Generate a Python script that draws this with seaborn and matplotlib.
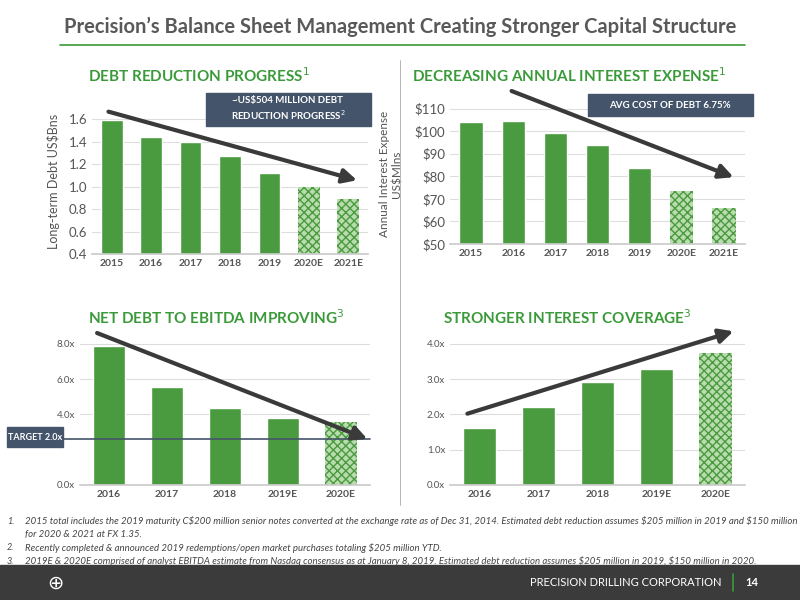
import matplotlib
matplotlib.use("Agg")
import matplotlib.pyplot as plt
import seaborn as sns
import pandas as pd
from matplotlib.patches import Rectangle

sns.set_theme(style="white")
plt.rcParams['font.family'] = ['Lato', 'DejaVu Sans']

years1 = ["2015", "2016", "2017", "2018", "2019", "2020E", "2021E"]
debt = [1.59, 1.44, 1.40, 1.27, 1.12, 1.00, 0.89]
interest = [104, 104.5, 99, 94, 83.5, 73.5, 66]
years2 = ["2016", "2017", "2018", "2019E", "2020E"]
net_debt_ebitda = [7.9, 5.55, 4.35, 3.8, 3.55]
coverage = [1.62, 2.22, 2.92, 3.3, 3.75]
n_est1 = 2
n_est2 = 1

GREEN = "#4a9a3f"
LIGHT = "#b9dcae"
TGREEN = "#3a9a3a"
NAVY = "#44546a"

fig = plt.figure(figsize=(8, 6), dpi=100)
W, H = 800, 600
def ax_at(x0, y0, x1, y1):
    return fig.add_axes([x0 / W, 1 - y1 / H, (x1 - x0) / W, (y1 - y0) / H])

def bars(ax, cats, vals, n_est, ylim, ticks, fmt):
    df = pd.DataFrame({"c": cats, "v": vals})
    sns.barplot(data=df, x="c", y="v", ax=ax, color=GREEN, width=0.55, saturation=1)
    for i, p in enumerate(ax.patches):
        if i >= len(cats) - n_est:
            p.set_facecolor(LIGHT)
            p.set_edgecolor(GREEN)
            p.set_hatch("xxxx")
            p.set_linewidth(0)
    ax.set_ylim(*ylim)
    ax.set_yticks(ticks)
    ax.set_yticklabels([fmt(t) for t in ticks])
    ax.yaxis.grid(True, color="#dddddd", lw=0.8)
    ax.set_axisbelow(True)
    ax.set_xlabel(""); ax.set_ylabel("")
    for s in ax.spines.values():
        s.set_visible(False)
    ax.spines["bottom"].set_visible(True)
    ax.spines["bottom"].set_color("#cccccc")
    ax.tick_params(axis="x", labelsize=7.5, colors="#555555", length=0)
    ax.tick_params(axis="y", labelsize=8, colors="#555555", length=0)
    for t in ax.get_xticklabels():
        t.set_fontweight("bold")

def arrow(ax, p0, p1):
    ax.annotate("", xy=p1, xytext=p0, xycoords="axes fraction",
                arrowprops=dict(arrowstyle="-|>,head_width=0.35,head_length=0.7",
                                color="#3a3a3a", lw=3), annotation_clip=False)

fig.text(0.5, 1 - 27 / H, "Precision’s Balance Sheet Management Creating Stronger Capital Structure",
         ha="center", va="center", fontsize=14.5, fontweight="bold", color="#595959")
fig.add_artist(plt.Line2D([60 / W, 745 / W], [1 - 45 / H] * 2, color=TGREEN, lw=1.2))
fig.add_artist(plt.Line2D([400 / W, 400 / W], [1 - 505 / H, 1 - 60 / H], color="#aaaaaa", lw=0.6))

# Panel 1
ax1 = ax_at(92, 108, 368, 254)
bars(ax1, years1, debt, n_est1, (0.4, 1.7), [0.4, 0.6, 0.8, 1.0, 1.2, 1.4, 1.6], lambda t: f"{t:.1f}")
ax1.tick_params(axis="y", labelsize=9.5)
ax1.set_ylabel("Long-term Debt US$Bns", fontsize=9, color="#555555", labelpad=6)
arrow(ax1, (0.05, 0.98), (0.97, 0.5))
fig.text(88 / W, 1 - 76 / H, "DEBT REDUCTION PROGRESS$^1$", fontsize=11, fontweight="bold", color=TGREEN, va="center")
fig.add_artist(Rectangle((206 / W, 1 - 126 / H), 165 / W, 33 / H, color=NAVY, transform=fig.transFigure))
fig.text(288 / W, 1 - 109 / H, "~US\\$504 MILLION DEBT\nREDUCTION PROGRESS$^2$", ha="center", va="center",
         fontsize=7, fontweight="bold", color="white", linespacing=1.3)

# Panel 2
ax2 = ax_at(450, 104, 745, 244)
bars(ax2, years1, interest, n_est1, (50, 112), [50, 60, 70, 80, 90, 100, 110], lambda t: f"${t:.0f}")
ax2.tick_params(axis="y", labelsize=9.5)
ax2.set_ylabel("Annual Interest Expense\nUS$Mlns", fontsize=8.5, color="#555555")
ax2.yaxis.set_label_coords(-0.16, 0.5)
arrow(ax2, (0.2, 1.1), (0.97, 0.47))
fig.text(412 / W, 1 - 76 / H, "DECREASING ANNUAL INTEREST EXPENSE$^1$", fontsize=11, fontweight="bold", color=TGREEN, va="center")
fig.add_artist(Rectangle((588 / W, 1 - 116 / H), 165 / W, 22 / H, color=NAVY, transform=fig.transFigure))
fig.text(670 / W, 1 - 105 / H, "AVG COST OF DEBT 6.75%", ha="center", va="center",
         fontsize=7, fontweight="bold", color="white")

# Panel 3
ax3 = ax_at(80, 335, 370, 485)
bars(ax3, years2, net_debt_ebitda, n_est2, (0, 8.5), [0, 4, 6, 8], lambda t: f"{t:.1f}x")
ax3.tick_params(axis="y", labelsize=7)
ax3.axhline(2.6, color=NAVY, lw=1.2, xmin=-0.25, clip_on=False)
arrow(ax3, (0.05, 1.02), (1.0, 0.3))
fig.text(88 / W, 1 - 318 / H, "NET DEBT TO EBITDA IMPROVING$^3$", fontsize=11, fontweight="bold", color=TGREEN, va="center")
fig.add_artist(Rectangle((7 / W, 1 - 447 / H), 56 / W, 20 / H, color=NAVY, transform=fig.transFigure))
fig.text(35 / W, 1 - 437 / H, "TARGET 2.0x", ha="center", va="center", fontsize=6.5, fontweight="bold", color="white")

# Panel 4
ax4 = ax_at(450, 335, 745, 485)
bars(ax4, years2, coverage, n_est2, (0, 4.25), [0, 1, 2, 3, 4], lambda t: f"{t:.1f}x")
ax4.tick_params(axis="y", labelsize=7)
arrow(ax4, (0.05, 0.47), (0.97, 1.03))
fig.text(443 / W, 1 - 318 / H, "STRONGER INTEREST COVERAGE$^3$", fontsize=11, fontweight="bold", color=TGREEN, va="center")

notes = [
    ("1.", "2015 total includes the 2019 maturity C$200 million senior notes converted at the exchange rate as of Dec 31, 2014. Estimated debt reduction assumes $205 million in 2019 and $150 million", 521),
    ("", "for 2020 & 2021 at FX 1.35.", 535),
    ("2.", "Recently completed & announced 2019 redemptions/open market purchases totaling $205 million YTD.", 548),
    ("3.", "2019E & 2020E comprised of analyst EBITDA estimate from Nasdaq consensus as at January 8, 2019. Estimated debt reduction assumes $205 million in 2019, $150 million in 2020.", 561),
]
for num, txt, y in notes:
    if num:
        fig.text(7 / W, 1 - y / H, num, fontsize=6.5, style="italic", color="#444444", va="center")
    fig.text(25 / W, 1 - y / H, txt, fontsize=6.9, style="italic", color="#444444", va="center", parse_math=False)

fig.add_artist(Rectangle((0, 0), 1, 35 / H, color="#3b3b3b", transform=fig.transFigure))
fig.text(55 / W, 17 / H, "⊕", fontsize=14, color="white", va="center", ha="center")
fig.text(722 / W, 17 / H, "PRECISION DRILLING CORPORATION", fontsize=8, color="white", va="center", ha="right")
fig.add_artist(plt.Line2D([733 / W] * 2, [9 / H, 26 / H], color=TGREEN, lw=1.2))
fig.text(745 / W, 17 / H, "14", fontsize=8, color="white", va="center", fontweight="bold")

fig.savefig("out.png", dpi=100)
